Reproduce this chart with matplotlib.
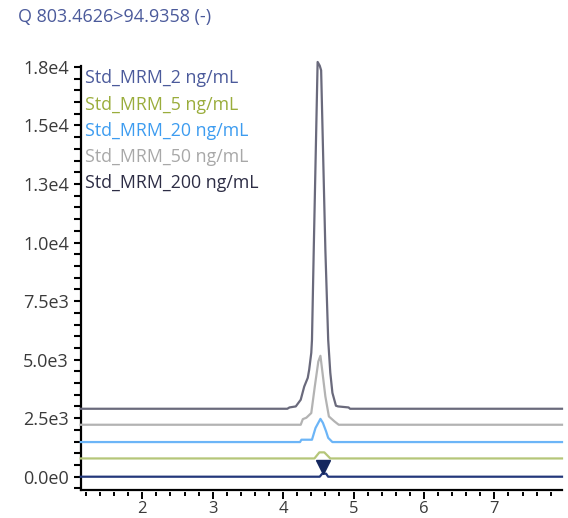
import matplotlib
matplotlib.use("Agg")
import matplotlib.pyplot as plt
from matplotlib.ticker import FixedLocator, MultipleLocator

plt.rcParams['font.family'] = ['Open Sans', 'DejaVu Sans']

title = "Q 803.4626>94.9358 (-)"
labels = ["Std_MRM_2 ng/mL", "Std_MRM_5 ng/mL", "Std_MRM_20 ng/mL",
          "Std_MRM_50 ng/mL", "Std_MRM_200 ng/mL"]
label_colors = ["#4b5a9b", "#9aad3c", "#3d9cf0", "#a8a8a8", "#2d2d45"]
line_colors = ["#23377a", "#b5c679", "#6cb5f7", "#b3b3b3", "#6a6a7c"]
offsets = [0, 780, 1480, 2219, 2902]

t_start, t_end = 1.126, 7.96

# retention time (min) and intensity above each trace's baseline
t_2 = [t_start, 4.52, 4.555, 4.61, 4.64, t_end]
y_2 = [0, 0, 130, 130, 0, 0]

t_5 = [t_start, 4.445, 4.515, 4.585, 4.67, t_end]
y_5 = [0, 0, 260, 260, 0, 0]

t_20 = [t_start, 4.24, 4.26, 4.41, 4.46, 4.53, 4.565, 4.61, 4.64, 4.70, t_end]
y_20 = [0, 0, 100, 100, 600, 990, 820, 460, 180, 0, 0]

t_50 = [t_start, 4.25, 4.28, 4.33, 4.40, 4.45, 4.50, 4.53, 4.56, 4.60, 4.65, 4.73, 4.79, t_end]
y_50 = [0, 0, 240, 300, 500, 1635, 2700, 2945, 2207, 1208, 355, 141, 0, 0]

t_200 = [t_start, 4.06, 4.09, 4.18, 4.25, 4.30, 4.35, 4.37, 4.40, 4.41, 4.435, 4.49,
         4.52, 4.54, 4.60, 4.64, 4.67, 4.70, 4.75, 4.78, 4.93, 4.95, t_end]
y_200 = [0, 0, 56, 100, 385, 950, 1320, 1665, 2390, 2945, 6790, 14810,
         14650, 14450, 6790, 2945, 1540, 680, 130, 100, 56, 0, 0]

series_t = [t_2, t_5, t_20, t_50, t_200]
series_y = [y_2, y_5, y_20, y_50, y_200]

peak_marker_t = 4.56
peak_marker_y = 414

y_ticks = [0, 2500, 5000, 7500, 10000, 12500, 15000, 17500]
y_tick_labels = ["0.0e0", "2.5e3", "5.0e3", "7.5e3", "1.0e4", "1.3e4", "1.5e4", "1.8e4"]
x_ticks = [2, 3, 4, 5, 6, 7]

fig = plt.figure(figsize=(5.68, 5.18), dpi=100)
ax = fig.add_axes([80.7/568, (518-489.5)/518, 481.3/568, (489.5-62)/518])

for t, y, off, c in zip(series_t, series_y, offsets, line_colors):
    ax.plot(t, [v + off for v in y], color=c, lw=1.6, clip_on=False, zorder=3)

ax.plot([peak_marker_t], [peak_marker_y], marker='v', markersize=10,
        color="#14275e", zorder=4, clip_on=False)

ax.set_xlim(t_start, t_end)
ax.set_ylim(-546, 17710)

for s in ['top', 'right']:
    ax.spines[s].set_visible(False)
ax.spines['left'].set_bounds(-546, 17550)
ax.spines['left'].set_linewidth(1.6)
ax.spines['bottom'].set_position(('outward', 2))
ax.spines['bottom'].set_visible(False)
ax.plot([0, 1], [0, 0], transform=ax.transAxes, color='black', lw=1.6,
        clip_on=False, zorder=5)

ax.yaxis.set_major_locator(FixedLocator(y_ticks))
ax.set_yticklabels(y_tick_labels)
ax.yaxis.set_minor_locator(MultipleLocator(500))
ax.xaxis.set_major_locator(FixedLocator(x_ticks))
ax.xaxis.set_minor_locator(MultipleLocator(0.2))

ax.tick_params(axis='y', which='both', direction='out', length=5, width=1.5,
               color='black', labelsize=13, labelcolor='#3a3a3a', pad=3.5)
ax.tick_params(axis='x', which='major', direction='out', length=5, width=1.4,
               color='black', labelsize=12, labelcolor='#3a3a3a', pad=1.5)
ax.tick_params(axis='x', which='minor', direction='out', length=3.2, width=1.4,
               color='black')

fig.text(18/568, 1 - 22/518, title, color="#4b5a9b", fontsize=13,
         ha='left', va='baseline')

legend_baselines = [83.3, 109.5, 135.7, 161.9, 188.1]
for lab, c, yy in zip(labels, label_colors, legend_baselines):
    fig.text(85/568, 1 - yy/518, lab, color=c, fontsize=12.8, ha='left', va='baseline')

fig.savefig("out.png", dpi=100)
